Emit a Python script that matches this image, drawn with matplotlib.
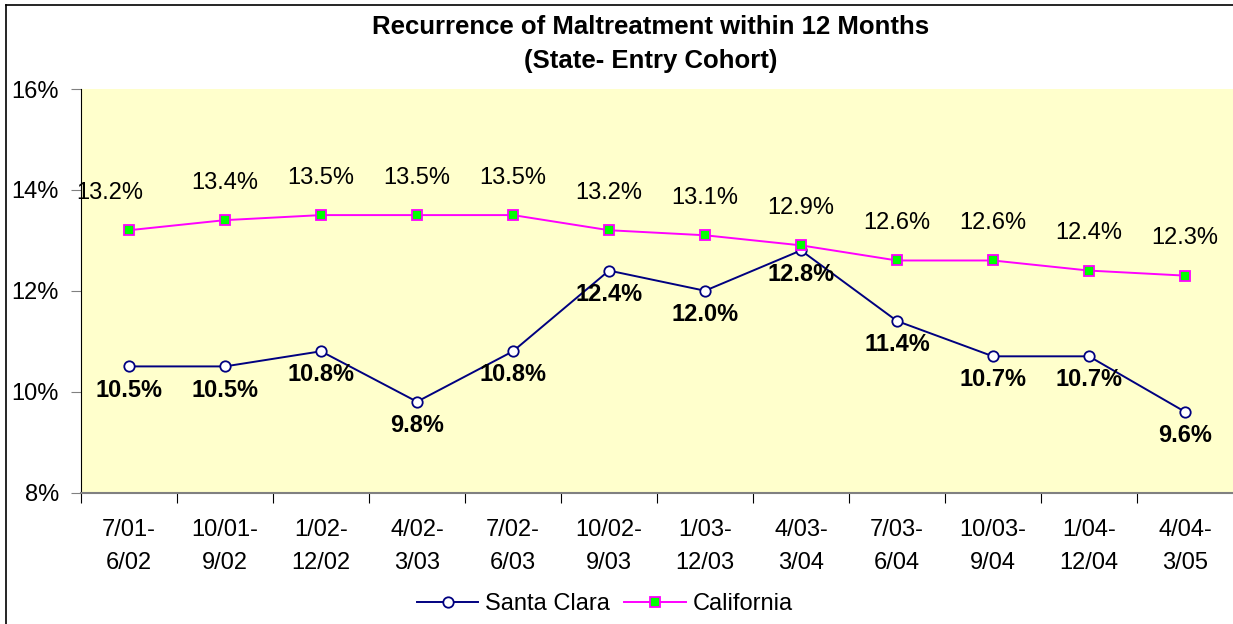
import matplotlib
matplotlib.use("Agg")
import matplotlib.pyplot as plt
from matplotlib.lines import Line2D

plt.rcParams['font.family'] = ['Liberation Sans', 'DejaVu Sans']

categories = ["7/01-\n6/02", "10/01-\n9/02", "1/02-\n12/02", "4/02-\n3/03", "7/02-\n6/03",
              "10/02-\n9/03", "1/03-\n12/03", "4/03-\n3/04", "7/03-\n6/04", "10/03-\n9/04",
              "1/04-\n12/04", "4/04-\n3/05"]
santa_clara = [10.5, 10.5, 10.8, 9.8, 10.8, 12.4, 12.0, 12.8, 11.4, 10.7, 10.7, 9.6]
california = [13.2, 13.4, 13.5, 13.5, 13.5, 13.2, 13.1, 12.9, 12.6, 12.6, 12.4, 12.3]
y_ticks = [8, 10, 12, 14, 16]

W, H = 1233, 624
fig = plt.figure(figsize=(W / 100, H / 100), dpi=100)
fig.patch.set_facecolor('white')

# figure border
fig.add_artist(Line2D([6 / W, 6 / W], [0, 1 - 5 / H], color='black', lw=1.2, transform=fig.transFigure))
fig.add_artist(Line2D([6 / W, 1], [1 - 5 / H, 1 - 5 / H], color='black', lw=1.2, transform=fig.transFigure))

ax = fig.add_axes([81 / W, 1 - 492.5 / H, (W - 81) / W, (492.5 - 89) / H])
ax.set_facecolor('#FFFFCC')

x = list(range(len(categories)))
ax.plot(x, santa_clara, color='#000080', lw=1.4, marker='o', markersize=7.5,
        markerfacecolor='white', markeredgecolor='#000080', markeredgewidth=1.3,
        label='Santa Clara', clip_on=False, zorder=3)
ax.plot(x, california, color='#FF00FF', lw=1.4, marker='s', markersize=7,
        markerfacecolor='#00FF00', markeredgecolor='#FF00FF', markeredgewidth=1.3,
        label='California', clip_on=False, zorder=3)

for xi, v in zip(x, santa_clara):
    ax.annotate(f"{v:.1f}%", (xi, v), xytext=(0, -17), textcoords='offset points',
                ha='center', va='center', fontsize=17, fontweight='bold', color='black')
for xi, v in zip(x, california):
    dx = -14 if xi == 0 else 0
    ax.annotate(f"{v:.1f}%", (xi, v), xytext=(dx, 27), textcoords='offset points',
                ha='center', va='center', fontsize=17, color='black')

ax.set_xlim(-0.5, len(categories) - 0.5)
ax.set_ylim(8, 16)
ax.set_yticks(y_ticks)
ax.set_yticklabels([f"{t}%" for t in y_ticks], fontsize=17)
ax.set_xticks([i - 0.5 for i in range(len(categories))])
ax.set_xticklabels([])
ax.set_xticks(x, minor=True)
ax.set_xticklabels(categories, minor=True, fontsize=17, linespacing=1.65)
ax.tick_params(axis='x', which='minor', length=0, pad=19)
ax.tick_params(axis='x', which='major', length=7, color='black', direction='out')
ax.tick_params(axis='y', length=7, direction='out', color='#808080', pad=9)

for s in ['top', 'right']:
    ax.spines[s].set_visible(False)
ax.spines['left'].set_color('black')
ax.spines['bottom'].set_color('#808080')
ax.spines['bottom'].set_linewidth(1.5)

fig.text(651 / W, 1 - 44 / H, "Recurrence of Maltreatment within 12 Months\n(State- Entry Cohort)",
         ha='center', va='center', fontsize=18.5, fontweight='bold', linespacing=1.5)

handles, labels = ax.get_legend_handles_labels()
fig.legend(handles, labels, loc='center', bbox_to_anchor=(605 / W, 1 - 604 / H), ncol=2,
           frameon=False, fontsize=17, handlelength=2.6, columnspacing=0.6, handletextpad=0.3)

fig.savefig('out.png', dpi=100, facecolor='white')
